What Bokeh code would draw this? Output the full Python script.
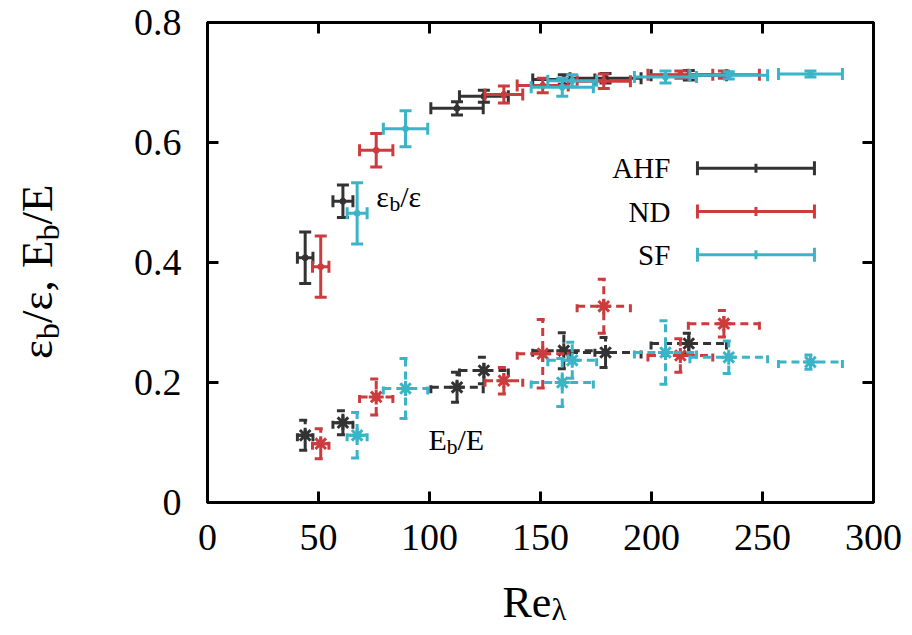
import numpy as np
from math import pi
from bokeh.plotting import figure
from bokeh.layouts import column, row
from bokeh.models import Range1d, LinearAxis, FixedTicker, Label, ColumnDataSource
from bokeh.embed import file_html
from bokeh.resources import INLINE

# ---------------- data ----------------
names = ["AHF", "ND", "SF"]
colors = ["#333333", "#cc3b3e", "#3bb4c8"]

ahf_re = [44.0, 61.0, 112.4, 124.5, 160.5, 179.3, 216.8]
ahf_re_err = [3.5, 4.5, 11.8, 11.0, 14.0, 16.0, 17.0]
ahf_eps = [0.408, 0.502, 0.657, 0.677, 0.705, 0.707, 0.712]
ahf_eps_err = [0.043, 0.027, 0.011, 0.010, 0.008, 0.008, 0.008]
ahf_en = [0.112, 0.133, 0.192, 0.220, 0.253, 0.250, 0.265]
ahf_en_err = [0.025, 0.020, 0.025, 0.022, 0.030, 0.025, 0.017]

nd_re = [51.0, 76.0, 133.5, 151.0, 178.5, 213.0, 232.6]
nd_re_err = [3.7, 7.5, 8.5, 11.5, 12.0, 14.6, 16.0]
nd_eps = [0.393, 0.587, 0.680, 0.695, 0.702, 0.713, 0.713]
nd_eps_err = [0.051, 0.028, 0.014, 0.012, 0.012, 0.006, 0.006]
nd_en = [0.098, 0.176, 0.203, 0.248, 0.327, 0.245, 0.298]
nd_en_err = [0.025, 0.030, 0.022, 0.057, 0.045, 0.028, 0.022]

sf_re = [67.4, 89.2, 159.8, 164.3, 206.3, 234.8, 271.6]
sf_re_err = [4.5, 10.0, 14.0, 11.0, 14.0, 17.5, 14.4]
sf_eps = [0.482, 0.623, 0.692, 0.703, 0.709, 0.712, 0.714]
sf_eps_err = [0.051, 0.030, 0.015, 0.010, 0.010, 0.006, 0.005]
sf_en = [0.112, 0.190, 0.200, 0.237, 0.250, 0.242, 0.234]
sf_en_err = [0.038, 0.050, 0.040, 0.030, 0.053, 0.027, 0.012]

x_ticks = [0, 50, 100, 150, 200, 250, 300]
y_ticks = [0, 0.2, 0.4, 0.6, 0.8]

FONT = "Liberation Serif"

# ---------------- layout sizes ----------------
TOTAL_W, TOTAL_H = 904, 627
YLAB_W = 80
MAIN_W, MAIN_H = TOTAL_W - YLAB_W, 572
XLAB_H = TOTAL_H - MAIN_H

# ---------------- main figure ----------------
p = figure(width=MAIN_W, height=MAIN_H, output_backend="svg", toolbar_location=None,
           x_range=Range1d(0, 300), y_range=Range1d(0, 0.8),
           min_border_left=127, min_border_right=31, min_border_top=22,
           min_border_bottom=MAIN_H - 502)
p.xgrid.visible = False
p.ygrid.visible = False
p.outline_line_color = "black"
p.outline_line_width = 3
p.background_fill_color = "white"
p.border_fill_color = "white"

def style_axis(ax, ticks, show_labels):
    ax.ticker = FixedTicker(ticks=ticks)
    ax.major_tick_in = 11
    ax.major_tick_out = 0
    ax.minor_tick_line_color = None
    ax.major_tick_line_width = 3
    ax.axis_line_width = 3
    ax.major_label_text_font = FONT
    ax.major_label_text_font_size = "38px" if show_labels else "0px"
    ax.major_label_text_color = "black" if show_labels else None
    ax.axis_label = None

style_axis(p.xaxis[0], x_ticks, True)
style_axis(p.yaxis[0], y_ticks, True)
p.xaxis[0].major_label_standoff = 22
p.yaxis[0].major_label_standoff = 26
p.yaxis[0].major_label_overrides = {0: "0"}

ax_top = LinearAxis()
style_axis(ax_top, x_ticks, False)
p.add_layout(ax_top, "above")
ax_right = LinearAxis()
style_axis(ax_right, y_ticks, False)
p.add_layout(ax_right, "right")


def draw(x, xe, y, ye, color, dash, marker, msize):
    x = np.array(x); xe = np.array(xe); y = np.array(y); ye = np.array(ye)
    src = ColumnDataSource(dict(x=x, y=y, xl=x - xe, xr=x + xe, yl=y - ye, yh=y + ye))
    kw = dict(line_color=color, line_width=3, line_dash=dash)
    p.segment(x0="xl", y0="y", x1="xr", y1="y", source=src, **kw)
    p.segment(x0="x", y0="yl", x1="x", y1="yh", source=src, **kw)
    p.scatter(x="xl", y="y", marker="dash", angle=pi / 2, size=12, source=src, **kw)
    p.scatter(x="xr", y="y", marker="dash", angle=pi / 2, size=12, source=src, **kw)
    p.scatter(x="x", y="yl", marker="dash", size=12, source=src, **kw)
    p.scatter(x="x", y="yh", marker="dash", size=12, source=src, **kw)
    if marker == "circle":
        p.scatter(x="x", y="y", marker="circle", size=msize, source=src,
                  fill_color=color, line_color=color)
    else:
        p.scatter(x="x", y="y", marker=marker, size=msize, source=src,
                  line_color=color, line_width=3)

series = [
    (ahf_re, ahf_re_err, ahf_eps, ahf_eps_err, ahf_en, ahf_en_err),
    (nd_re, nd_re_err, nd_eps, nd_eps_err, nd_en, nd_en_err),
    (sf_re, sf_re_err, sf_eps, sf_eps_err, sf_en, sf_en_err),
]
for (re, ree, eps, epse, en, ene), c in zip(series, colors):
    draw(re, ree, eps, epse, c, "solid", "circle", 6)
for (re, ree, eps, epse, en, ene), c in zip(series, colors):
    draw(re, ree, en, ene, c, "8 5", "asterisk", 15)

# ---------------- legend (manual, gnuplot style) ----------------
leg_y = [0.557, 0.485, 0.413]
leg_text_x = 208.5
leg_x0, leg_x1 = 220.7, 273.4
for name, c, ly in zip(names, colors, leg_y):
    p.add_layout(Label(x=leg_text_x, y=ly, text=name, text_align="right", text_baseline="middle",
                       text_font=FONT, text_font_size="29px", text_color="black"))
    p.segment(x0=[leg_x0], y0=[ly], x1=[leg_x1], y1=[ly], line_color=c, line_width=3)
    p.scatter(x=[leg_x0, leg_x1], y=[ly, ly], marker="dash", angle=pi / 2, size=14,
              line_color=c, line_width=3)
    p.scatter(x=[(leg_x0 + leg_x1) / 2], y=[ly], marker="dash", angle=pi / 2, size=9,
              line_color=c, line_width=3)

# ---------------- composite labels with subscripts ----------------
def rich(fig, x, y, parts, size, angle=0.0, sub_scale=0.72, sub_shift=0.25):
    """parts: list of (text, is_sub, advance_em)"""
    off = 0.0
    for text, is_sub, adv in parts:
        fs = size * (sub_scale if is_sub else 1.0)
        shift = size * sub_shift if is_sub else 0.0
        if angle == 0.0:
            xo, yo = off, -shift
        else:
            xo, yo = shift, off
        fig.add_layout(Label(x=x, y=y, x_offset=xo, y_offset=yo, text=text, angle=angle,
                             text_font=FONT, text_font_size=f"{fs:.1f}px", text_color="black",
                             text_baseline="alphabetic", text_align="left"))
        off += adv * fs

eps_parts = [("ε", False, 0.44), ("b", True, 0.5), ("/ε", False, 0.72)]
en_parts = [("E", False, 0.611), ("b", True, 0.5), ("/E", False, 0.89)]
rich(p, 76, 0.51, eps_parts, 30)
rich(p, 99.5, 0.105, en_parts, 30)


def label_fig(w, h):
    f = figure(width=w, height=h, output_backend="svg", toolbar_location=None, title=None,
               x_range=Range1d(0, w), y_range=Range1d(0, h),
               x_axis_location=None, y_axis_location=None,
               min_border=0, min_border_left=0, min_border_right=0,
               min_border_top=0, min_border_bottom=0)
    f.grid.visible = False
    f.outline_line_color = None
    f.background_fill_color = "white"
    f.border_fill_color = "white"
    return f

ylab = label_fig(YLAB_W, MAIN_H)
rich(ylab, 36, MAIN_H - 401,
     [("ε", False, 0.44), ("b", True, 0.5), ("/ε,", False, 1.22), ("E", False, 0.611),
      ("b", True, 0.5), ("/E", False, 0.89)], 45, angle=pi / 2)

xlab = label_fig(TOTAL_W, XLAB_H)
rich(xlab, 502, TOTAL_H - 602, [("Re", False, 1.111), ("λ", True, 0.5)], 44,
     sub_scale=0.7, sub_shift=0.18)

layout = column(row(ylab, p), xlab)
open("out.html", "w").write(file_html(layout, INLINE))
